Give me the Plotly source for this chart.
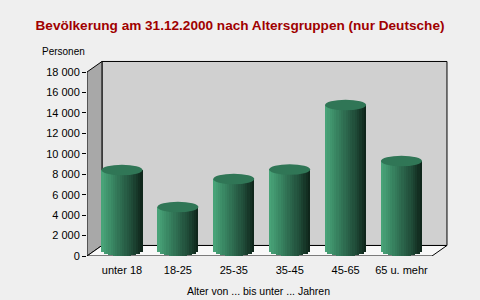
import math
import plotly.graph_objects as go

categories = ["unter 18", "18-25", "25-35", "35-45", "45-65", "65 u. mehr"]
values = [7900, 4280, 7020, 7950, 14260, 8780]
ytick_vals = [0, 2000, 4000, 6000, 8000, 10000, 12000, 14000, 16000, 18000]
title_text = "Bevölkerung am 31.12.2000 nach Altersgruppen (nur Deutsche)"
y_title = "Personen"
x_title = "Alter von ... bis unter ... Jahren"

# geometry (data units)
X_LEFT = -0.626
X_RIGHT_FRONT = 5.546
X_MAX = 5.868
Y_WALL = 18000
Y_MAX = 19370
DX = 0.268
DY = 1030
B = DY / 2
R = 0.367
E = 520
N = 18

def lerp_color(t):
    stops = [(0.0, (74, 166, 122)), (0.25, (58, 136, 100)), (0.5, (44, 104, 77)),
             (0.75, (31, 74, 55)), (1.0, (13, 34, 24))]
    for (t0, c0), (t1, c1) in zip(stops[:-1], stops[1:]):
        if t <= t1:
            f = (t - t0) / (t1 - t0)
            return "rgb(%d,%d,%d)" % tuple(round(a + (b - a) * f) for a, b in zip(c0, c1))
    return "rgb(13,34,24)"

fig = go.Figure()
xs = list(range(len(categories)))
w = 2 * R / N
for k in range(N):
    xc = -R + (k + 0.5) * w
    depth = E * math.sqrt(max(0.0, 1 - (xc / R) ** 2))
    base_k = B - depth
    fig.add_trace(go.Bar(
        x=xs, y=[v + depth for v in values], base=base_k,
        width=w * 1.02, offset=-R + k * w,
        marker=dict(color=lerp_color((k + 0.5) / N), line=dict(width=0)),
        hoverinfo="skip", showlegend=False))

shapes = []
# back wall
shapes.append(dict(type="rect", xref="x", yref="y", layer="below",
                   x0=X_LEFT + DX, x1=X_RIGHT_FRONT + DX, y0=DY, y1=Y_WALL + DY,
                   fillcolor="#d0d0d0", line=dict(color="black", width=1)))
# left wall
shapes.append(dict(type="path", xref="x", yref="y", layer="below",
                   path=f"M {X_LEFT},0 L {X_LEFT+DX},{DY} L {X_LEFT+DX},{Y_WALL+DY} L {X_LEFT},{Y_WALL} Z",
                   fillcolor="#a8a8a8", line=dict(color="black", width=1)))
# floor
shapes.append(dict(type="path", xref="x", yref="y", layer="below",
                   path=f"M {X_LEFT},0 L {X_RIGHT_FRONT},0 L {X_RIGHT_FRONT+DX},{DY} L {X_LEFT+DX},{DY} Z",
                   fillcolor="#f8f8f8", line=dict(color="black", width=1)))
# cylinder tops
for i, v in enumerate(values):
    shapes.append(dict(type="circle", xref="x", yref="y", layer="above",
                       x0=i - R, x1=i + R, y0=v + B - E, y1=v + B + E,
                       fillcolor="rgb(48,118,86)", line=dict(width=0)))

fig.update_layout(
    width=480, height=300,
    margin=dict(l=87, r=30, t=58, b=44),
    paper_bgcolor="#efefef", plot_bgcolor="rgba(0,0,0,0)",
    barmode="overlay", bargap=0,
    separators=", ",
    font=dict(family="Liberation Sans, Arial, sans-serif", size=11, color="black"),
    title=dict(text=title_text, x=0.5, xref="container", xanchor="center",
               y=1 - 25 / 300, yref="container", yanchor="middle",
               font=dict(family="Liberation Sans, Arial, sans-serif", size=13.6, color="#a00000", weight="bold")),
    xaxis=dict(range=[X_LEFT, X_MAX], tickvals=xs, ticktext=categories, ticks="",
               showgrid=False, zeroline=False, showline=False, fixedrange=True,
               tickfont=dict(size=11), ticklabelstandoff=6),
    yaxis=dict(range=[0, Y_MAX], tickvals=ytick_vals, tickformat=",d", ticks="outside",
               ticklen=4, tickcolor="black", showgrid=False, zeroline=False, showline=False,
               fixedrange=True, tickfont=dict(size=11)),
    shapes=shapes,
    annotations=[
        dict(text=y_title, xref="paper", yref="paper", x=(40 - 87) / 363, y=(256 - 51) / 198,
             xanchor="left", yanchor="middle", showarrow=False, font=dict(size=10)),
        dict(text=x_title, xref="paper", yref="paper", x=(258.7 - 87) / 363, y=(256 - 291) / 198,
             xanchor="center", yanchor="middle", showarrow=False, font=dict(size=10.5)),
    ],
)
fig.write_html("out.html")
